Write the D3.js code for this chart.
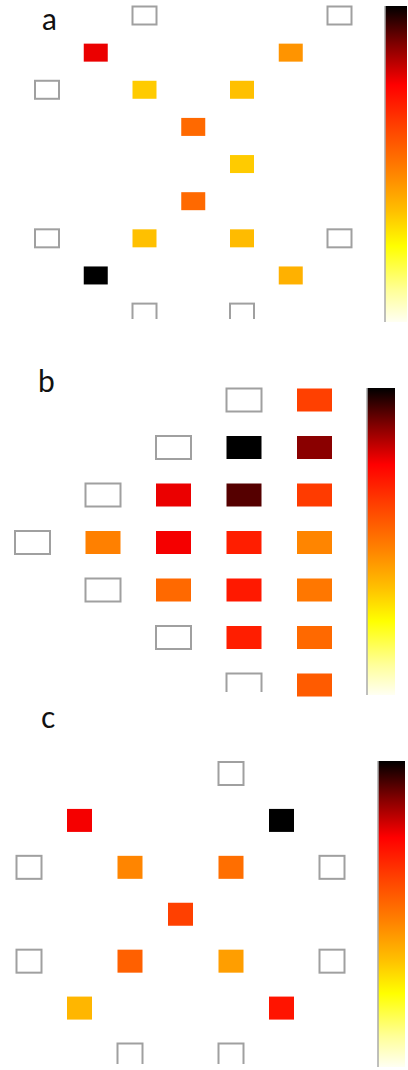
<!DOCTYPE html>
<html>
<head>
<meta charset="utf-8">
<script src="https://cdn.jsdelivr.net/npm/d3@7"></script>
<style>
  html, body { margin: 0; padding: 0; background: #fff; }
  svg { display: block; }
</style>
</head>
<body>
<svg id="chart"></svg>
<script>
var width = 408;
var height = 1070;

// panel a : grid cells (row, col, value; null = empty cell)
var aRows = [0, 0, 1, 1, 2, 2, 2, 3, 4, 5, 6, 6, 6, 6, 7, 7, 8, 8];
var aCols = [2, 6, 1, 5, 0, 2, 4, 3, 4, 3, 0, 2, 4, 6, 1, 5, 2, 4];
var aVals = [null, null, 0.77, 0.44, null, 0.33, 0.35, 0.53, 0.33, 0.53, null, 0.35, 0.36, null, 1.0, 0.38, null, null];

// panel b
var bRows = [0, 0, 1, 1, 1, 2, 2, 2, 2, 3, 3, 3, 3, 3, 4, 4, 4, 4, 5, 5, 5, 6, 6];
var bCols = [3, 4, 2, 3, 4, 1, 2, 3, 4, 0, 1, 2, 3, 4, 1, 2, 3, 4, 2, 3, 4, 3, 4];
var bVals = [null, 0.62, null, 1.0, 0.87, null, 0.77, 0.92, 0.63, null, 0.48, 0.76, 0.69, 0.47, null, 0.53, 0.70, 0.50, null, 0.69, 0.53, null, 0.56];

// panel c
var cRows = [0, 1, 1, 2, 2, 2, 2, 3, 4, 4, 4, 4, 5, 5, 6, 6];
var cCols = [4, 1, 5, 0, 2, 4, 6, 3, 0, 2, 4, 6, 1, 5, 2, 4];
var cVals = [null, 0.76, 1.0, null, 0.47, 0.52, null, 0.62, null, 0.55, 0.42, null, 0.37, 0.71, null, null];

var labels = ["a", "b", "c"];

// colour map, 0 = white (bottom of bar), 1 = black (top)
var mapStops = [0, 0.1, 0.24, 0.35, 0.48, 0.62, 0.75, 0.88, 1];
var mapColors = ["#fffff2", "#ffff98", "#ffff00", "#ffc000", "#ff8000", "#ff4000", "#ff0000", "#800000", "#000000"];

var color = d3.scaleLinear()
              .domain(mapStops)
              .range(mapColors)
              .interpolate(d3.interpolateRgb);

var panels = [
  { rows: aRows, cols: aCols, vals: aVals, nCol: 6, nRow: 8,
    x0: 47, x1: 339.5, y0: 15.5, y1: 312.6, w: 24, h: 18,
    label: [42, 30], bar: [385, 6, 22, 316] },
  { rows: bRows, cols: bCols, vals: bVals, nCol: 4, nRow: 6,
    x0: 32.5, x1: 314.5, y0: 400, y1: 685, w: 35, h: 23,
    label: [38, 392], bar: [367, 388, 28, 307] },
  { rows: cRows, cols: cCols, vals: cVals, nCol: 6, nRow: 6,
    x0: 29, x1: 332, y0: 773.5, y1: 1055, w: 25, h: 23,
    label: [41, 728], bar: [378, 761, 27, 306] }
];

var svg = d3.select("#chart")
            .attr("width", width)
            .attr("height", height);

var defs = svg.append("defs");

var grad = defs.append("linearGradient")
               .attr("id", "cmap")
               .attr("x1", 0).attr("y1", 1)
               .attr("x2", 0).attr("y2", 0);

grad.selectAll("stop")
    .data(mapStops)
    .enter()
    .append("stop")
      .attr("offset", d => d * 100 + "%")
      .attr("stop-color", (d, i) => mapColors[i]);

panels.forEach(function (p, k) {
    var xScale = d3.scaleLinear()
                   .domain([0, p.nCol])
                   .range([p.x0, p.x1]);

    var yScale = d3.scaleLinear()
                   .domain([0, p.nRow])
                   .range([p.y0, p.y1]);

    var bottom = p.bar[1] + p.bar[3];

    // empty boxes of the last row are cut off at the panel's bottom edge
    defs.append("clipPath")
        .attr("id", "clip" + k)
      .append("rect")
        .attr("x", 0)
        .attr("y", p.bar[1] - 20)
        .attr("width", width)
        .attr("height", bottom - p.bar[1] + 17);

    var cells = p.rows.map((r, i) => ({ row: r, col: p.cols[i], val: p.vals[i] }));

    svg.append("g")
        .attr("clip-path", "url(#clip" + k + ")")
      .selectAll("rect")
      .data(cells.filter(d => d.val == null))
      .enter()
      .append("rect")
        .attr("x", d => xScale(d.col) - p.w / 2)
        .attr("y", d => yScale(d.row) - p.h / 2)
        .attr("width", p.w)
        .attr("height", p.h)
        .attr("fill", "#fff")
        .attr("stroke", "#a0a0a0")
        .attr("stroke-width", 2);

    svg.append("g")
      .selectAll("rect")
      .data(cells.filter(d => d.val != null))
      .enter()
      .append("rect")
        .attr("x", d => xScale(d.col) - p.w / 2)
        .attr("y", d => yScale(d.row) - p.h / 2)
        .attr("width", p.w)
        .attr("height", p.h)
        .attr("fill", d => color(d.val));

    // colour bar
    svg.append("rect")
        .attr("x", p.bar[0])
        .attr("y", p.bar[1])
        .attr("width", p.bar[2])
        .attr("height", p.bar[3])
        .attr("fill", "url(#cmap)");

    svg.append("line")
        .attr("x1", p.bar[0])
        .attr("x2", p.bar[0])
        .attr("y1", p.bar[1])
        .attr("y2", bottom)
        .attr("stroke", "#aaa")
        .attr("stroke-width", 1.5);

    svg.append("text")
        .attr("x", p.label[0])
        .attr("y", p.label[1])
        .attr("font-family", "Lato, 'Open Sans', sans-serif")
        .attr("font-size", 30)
        .attr("fill", "#111")
        .text(labels[k]);
});
</script>
</body>
</html>
